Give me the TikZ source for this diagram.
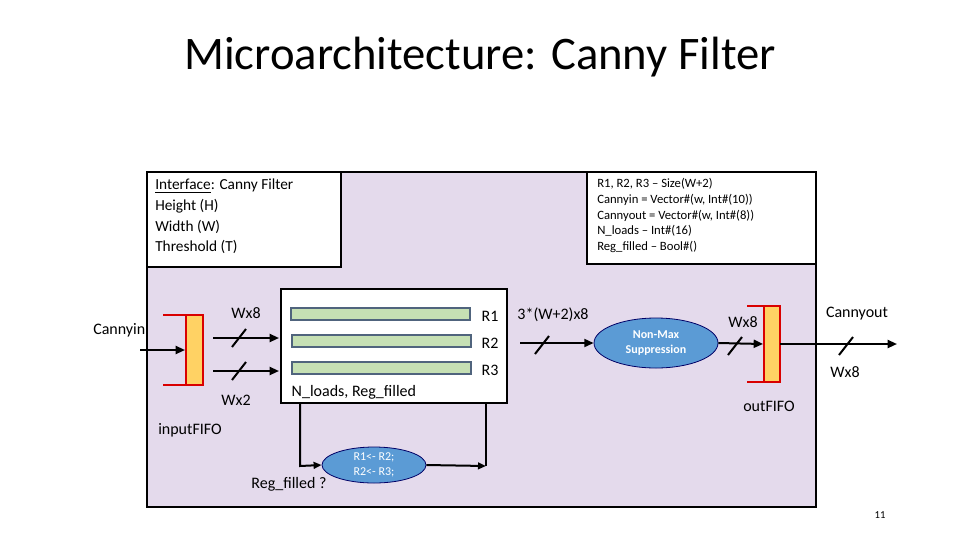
\documentclass[tikz,border=0pt]{standalone}
\usepackage{fontspec}
\setmainfont{Carlito}
\usetikzlibrary{arrows.meta,shapes.geometric}
\definecolor{panel}{RGB}{228,218,236}
\definecolor{barfill}{RGB}{198,224,180}
\definecolor{barline}{RGB}{80,100,125}
\definecolor{ellfill}{RGB}{91,155,213}
\definecolor{yelfill}{RGB}{255,210,100}
\begin{document}
\begin{tikzpicture}[x=0.75pt,y=-0.75pt,
  arr/.style={line width=1.5pt,-{Triangle[length=7pt,width=6pt]}},
  ln/.style={line width=1.5pt},
  slash/.style={line width=1.5pt},
  lbl/.style={font=\fontsize{12}{14}\selectfont},
  bar/.style={draw=barline,line width=1pt,fill=barfill},
  fifo/.style={draw=red!85!black,line width=1.8pt},
  yel/.style={fill=yelfill,draw=none},
  ell/.style={ellipse,draw=blue!40!black,fill=ellfill,line width=0.6pt,text=white,align=center,inner sep=0pt}]
\useasboundingbox (0,0) rectangle (960,540);
\fill[white] (0,0) rectangle (960,540);
\node (title) at (480,57) {\fontsize{35}{40}\selectfont Microarchitecture: Canny Filter};
% panel
\draw[fill=panel, line width=1pt] (147,172) rectangle (816,507);
\draw[fill=white,line width=0.8pt] (147,172) rectangle (341,267);
\node[font=\fontsize{11.5}{14}\selectfont,anchor=north west,align=left,inner sep=0pt] (iface) at (155,179) {\underline{Interface}: Canny Filter\\[1.5pt]Height (H)\\[1.5pt]Width (W)\\[1.5pt]Threshold (T)};
\draw[fill=white,line width=0.8pt] (587,172) rectangle (816,264);
\node[font=\fontsize{9.5}{11.8}\selectfont,anchor=north west,align=left,inner sep=0pt] (types) at (597,178) {R1, R2, R3 -- Size(W+2)\\Cannyin = Vector\#(w, Int\#(10))\\Cannyout = Vector\#(w, Int\#(8))\\N\_loads -- Int\#(16)\\Reg\_filled -- Bool\#()};
% input fifo
\fill[yel] (186,316) rectangle (203,384);
\draw[fifo] (163,315) -- (203,315) -- (203,385) -- (163,385);
\draw[fifo] (186,315) -- (186,385);
\coordinate (fin) at (185,350);
\coordinate (cin) at (140,350);
\node[lbl,anchor=east] (cannyin) at (150,330) {Cannyin};
\draw[arr] (cin) -- (fin);
\node[lbl] (ififo) at (190,430) {inputFIFO};
% register box
\draw[fill=white,line width=1.5pt] (281,289) rectangle (507,403);
\draw[bar] (291,308) rectangle (470,320);
\draw[bar] (292,335) rectangle (471,347);
\draw[bar] (292,362) rectangle (471,374);
\node[lbl] (r1) at (490,316) {R1};
\node[lbl] (r2) at (490,343) {R2};
\node[lbl] (r3) at (490,370) {R3};
\node[lbl,anchor=west] (nl) at (287,392) {N\_loads, Reg\_filled};
% fifo to regs
\coordinate (a1s) at (213,338); \coordinate (a1e) at (279,338);
\coordinate (a2s) at (213,371); \coordinate (a2e) at (279,371);
\draw[arr] (a1s) -- (a1e); \draw[arr] (a2s) -- (a2e);
\draw[slash] (232,347) -- (246,329); \draw[slash] (232,380) -- (246,362);
\node[lbl] (w8a) at (246,313) {Wx8};
\node[lbl] (w2) at (236,400) {Wx2};
% to NMS
\node[ell,minimum width=124pt*0.75,minimum height=50pt*0.75,font=\bfseries\fontsize{9}{11}\selectfont] (nms) at (656,343) {Non-Max\\Suppression};
\coordinate (rs) at (520,343);
\draw[arr] (rs) -- (nms.west);
\draw[slash] (535,354) -- (549,336);
\node[lbl] (w3) at (553,315) {3*(W+2)x8};
% out fifo
\fill[yel] (764,307) rectangle (779,381);
\draw[fifo] (747,306) -- (780,306) -- (780,382) -- (747,382);
\draw[fifo] (764,306) -- (764,382);
\coordinate (fo) at (763,344);
\draw[arr] (nms.east) -- (fo);
\draw[slash] (728,355) -- (742,337);
\node[lbl] (w8b) at (743,322) {Wx8};
\node[lbl] (ofifo) at (769,406) {outFIFO};
\coordinate (os) at (780,344); \coordinate (oe) at (897,344);
\draw[arr] (os) -- (oe);
\draw[slash] (839,355) -- (853,337);
\node[lbl] (cout) at (857,314) {Cannyout};
\node[lbl] (w8c) at (845,372) {Wx8};
% loop
\node[ell,minimum width=104pt*0.75,minimum height=36pt*0.75,font=\fontsize{9}{11}\selectfont] (sh) at (374,465) {R1<- R2;\\R2<- R3;};
\coordinate (lb) at (300,403); \coordinate (lc) at (300,466);
\coordinate (rc) at (486,466); \coordinate (rb) at (486,403);
\draw[ln,-{Triangle[length=6pt,width=5pt]}] (lb) -- (lc) -- (sh.west);
\draw[arr,-{Triangle[length=6pt,width=5pt]}] (sh.east) -- (rc);
\draw[ln] (rc) -- (rb);
\node[lbl] (rf) at (289,484) {Reg\_filled ?};
\node[font=\fontsize{8}{9}\selectfont] (pg) at (880,515) {11};
\end{tikzpicture}
\end{document}
